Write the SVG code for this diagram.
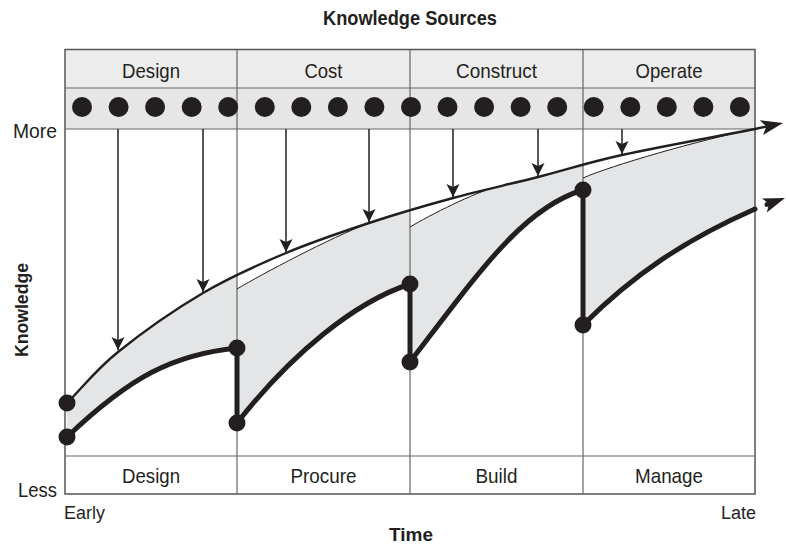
<svg xmlns="http://www.w3.org/2000/svg" width="786" height="546" viewBox="0 0 786 546">
<style>
.t{font-family:"Liberation Sans",Arial,sans-serif;fill:#231f20;font-size:21px}
.s{font-size:18px}
.b{font-weight:bold}
.frame{fill:none;stroke:#555;stroke-width:1.5}
.div{stroke:#666;stroke-width:1.2}
.hdr{fill:#ececec}
.band{fill:#e6e6e6}
.src{fill:#231f20}
.gray{fill:#e4e5e6;stroke:none}
.main{fill:none;stroke:#231f20;stroke-width:2.4}
.sec{fill:none;stroke:#231f20;stroke-width:1}
.thick{fill:none;stroke:#231f20;stroke-width:5;stroke-linecap:round;stroke-linejoin:round}
.arr{stroke:#231f20;stroke-width:1.5;fill:none;marker-end:url(#ah)}
.pt{fill:#231f20}
</style>
<defs>
<marker id="ah" markerUnits="userSpaceOnUse" markerWidth="14" markerHeight="14" viewBox="0 -7 14 14" refX="13" refY="0" orient="auto">
<path d="M0,-6.5 L13,0 L0,6.5 L3,0 Z" fill="#231f20"/>
</marker>
<marker id="big" markerUnits="userSpaceOnUse" markerWidth="22" markerHeight="16" viewBox="0 -8 22 16" refX="12" refY="0" orient="auto">
<path d="M0,-7.5 L22,0 L0,7.5 L5,0 Z" fill="#231f20"/>
</marker>
</defs>

<g id="title">
<text class="t b" x="410" y="25" text-anchor="middle" textLength="174" lengthAdjust="spacingAndGlyphs" style="font-size:20px">Knowledge Sources</text>
</g>

<g id="sources-header">
<rect class="hdr" x="65" y="49.5" width="690" height="38.5"/>
<rect class="band" x="65" y="88" width="690" height="41"/>
<text class="t" x="151" y="77.5" text-anchor="middle" textLength="58" lengthAdjust="spacingAndGlyphs">Design</text>
<text class="t" x="323.5" y="77.5" text-anchor="middle" textLength="38" lengthAdjust="spacingAndGlyphs">Cost</text>
<text class="t" x="496.5" y="77.5" text-anchor="middle" textLength="81" lengthAdjust="spacingAndGlyphs">Construct</text>
<text class="t" x="669" y="77.5" text-anchor="middle" textLength="67" lengthAdjust="spacingAndGlyphs">Operate</text>
</g>

<g id="fills">
<path class="gray" d="M67,403 C84,386 95.3,370.3 118,352 C140.7,333.7 175,309.5 203,293 C214.5,286.2 225.8,280.3 237.2,274.8 L237,348 C173,354.6 130.5,376.6 67,437 Z"/>
<path class="gray" d="M237,289 C262,274 330,238 369,223 C382.6,218.5 396.3,214.2 410,210.1 L410,284 C355,302 292,353 237,423 Z"/>
<path class="gray" d="M410,227 C430,215 475,192.3 495.5,187.3 C509.7,183.9 523.9,180.6 538,177 C554.2,172.9 567.6,168.8 583,164.7 L583,190 C523,208 480,271 410,362 Z"/>
<path class="gray" d="M583,178 C610,166 700,139.7 755,129 L755,209 C685,239.8 633.4,274.6 583,325 Z"/>
</g>

<g id="frame">
<rect class="frame" x="65" y="49.5" width="690" height="444.5"/>
<line class="div" x1="65" y1="88" x2="755" y2="88"/>
<line class="div" x1="65" y1="129" x2="755" y2="129"/>
<line class="div" x1="65" y1="456" x2="755" y2="456"/>
<line class="div" x1="237" y1="49.5" x2="237" y2="494"/>
<line class="div" x1="410" y1="49.5" x2="410" y2="494"/>
<line class="div" x1="583" y1="49.5" x2="583" y2="494"/>
</g>

<g id="source-dots">
<circle class="src" cx="82" cy="107" r="10"/>
<circle class="src" cx="118.6" cy="107" r="10"/>
<circle class="src" cx="155.1" cy="107" r="10"/>
<circle class="src" cx="191.7" cy="107" r="10"/>
<circle class="src" cx="228.2" cy="107" r="10"/>
<circle class="src" cx="264.8" cy="107" r="10"/>
<circle class="src" cx="301.3" cy="107" r="10"/>
<circle class="src" cx="337.9" cy="107" r="10"/>
<circle class="src" cx="374.4" cy="107" r="10"/>
<circle class="src" cx="411" cy="107" r="10"/>
<circle class="src" cx="447.5" cy="107" r="10"/>
<circle class="src" cx="484.1" cy="107" r="10"/>
<circle class="src" cx="520.6" cy="107" r="10"/>
<circle class="src" cx="557.2" cy="107" r="10"/>
<circle class="src" cx="593.7" cy="107" r="10"/>
<circle class="src" cx="630.3" cy="107" r="10"/>
<circle class="src" cx="666.8" cy="107" r="10"/>
<circle class="src" cx="703.4" cy="107" r="10"/>
<circle class="src" cx="739.9" cy="107" r="10"/>
</g>

<g id="connectors">
<line class="arr" x1="118" y1="129" x2="118" y2="350"/>
<line class="arr" x1="203" y1="129" x2="203" y2="292"/>
<line class="arr" x1="286" y1="129" x2="286" y2="252"/>
<line class="arr" x1="369" y1="129" x2="369" y2="222"/>
<line class="arr" x1="453" y1="129" x2="453" y2="197"/>
<line class="arr" x1="538" y1="129" x2="538" y2="176"/>
<line class="arr" x1="622" y1="129" x2="622" y2="154"/>
<path class="main" marker-end="url(#big)" d="M67,403 C84,386 95.3,370.3 118,352 C140.7,333.7 175,309.5 203,293 C231,276.5 258.3,264.7 286,253 C313.7,241.3 341.2,232.2 369,223 C396.8,213.8 424.8,205.7 453,198 C481.2,190.3 509.8,184.2 538,177 C566.2,169.8 585.8,163 622,155 C658.2,147 710.7,137.7 755,129 L773.2,125.1"/>
<path class="sec" d="M237,289 C262,274 330,238 369,223"/>
<path class="sec" d="M410,227 C430,215 475,192.3 495.5,187.3"/>
<path class="sec" d="M583,178 C610,166 700,139.7 755,129"/>
<path class="thick" d="M67,437 C130.5,376.6 173,354.6 237,348 L237,423 C292,353 355,302 410,284 L410,362 C480,271 523,208 583,190 L583,325 C633.4,274.6 685,239.8 755,209"/>
<circle class="pt" cx="767" cy="204.5" r="2.5"/>
<path fill="none" stroke="none" marker-end="url(#big)" d="M770.9,203.1 L775.6,201.4"/>
</g>

<g id="points">
<circle class="pt" cx="67" cy="403" r="8.5"/>
<circle class="pt" cx="67" cy="437" r="8.5"/>
<circle class="pt" cx="237" cy="348" r="8.5"/>
<circle class="pt" cx="237" cy="423" r="8.5"/>
<circle class="pt" cx="410" cy="284" r="8.5"/>
<circle class="pt" cx="410" cy="362" r="8.5"/>
<circle class="pt" cx="583" cy="190" r="8.5"/>
<circle class="pt" cx="583" cy="325" r="8.5"/>
</g>

<g id="phases">
<text class="t" x="151" y="483" text-anchor="middle" textLength="58" lengthAdjust="spacingAndGlyphs">Design</text>
<text class="t" x="323.5" y="483" text-anchor="middle" textLength="66" lengthAdjust="spacingAndGlyphs">Procure</text>
<text class="t" x="496.5" y="483" text-anchor="middle" textLength="42" lengthAdjust="spacingAndGlyphs">Build</text>
<text class="t" x="669" y="483" text-anchor="middle" textLength="68" lengthAdjust="spacingAndGlyphs">Manage</text>
</g>

<g id="axes">
<text class="t" x="57" y="137.5" text-anchor="end" textLength="44" lengthAdjust="spacingAndGlyphs">More</text>
<text class="t" x="57" y="497" text-anchor="end" textLength="39" lengthAdjust="spacingAndGlyphs">Less</text>
<text class="t s" x="64" y="518.5" textLength="41" lengthAdjust="spacingAndGlyphs">Early</text>
<text class="t s" x="756" y="518.5" text-anchor="end" textLength="35" lengthAdjust="spacingAndGlyphs">Late</text>
<text class="t s b" x="411" y="541" text-anchor="middle" textLength="44" lengthAdjust="spacingAndGlyphs">Time</text>
<text class="t b" transform="translate(27.5,310) rotate(-90)" text-anchor="middle" textLength="94" lengthAdjust="spacingAndGlyphs" style="font-size:18px">Knowledge</text>
</g>
</svg>
